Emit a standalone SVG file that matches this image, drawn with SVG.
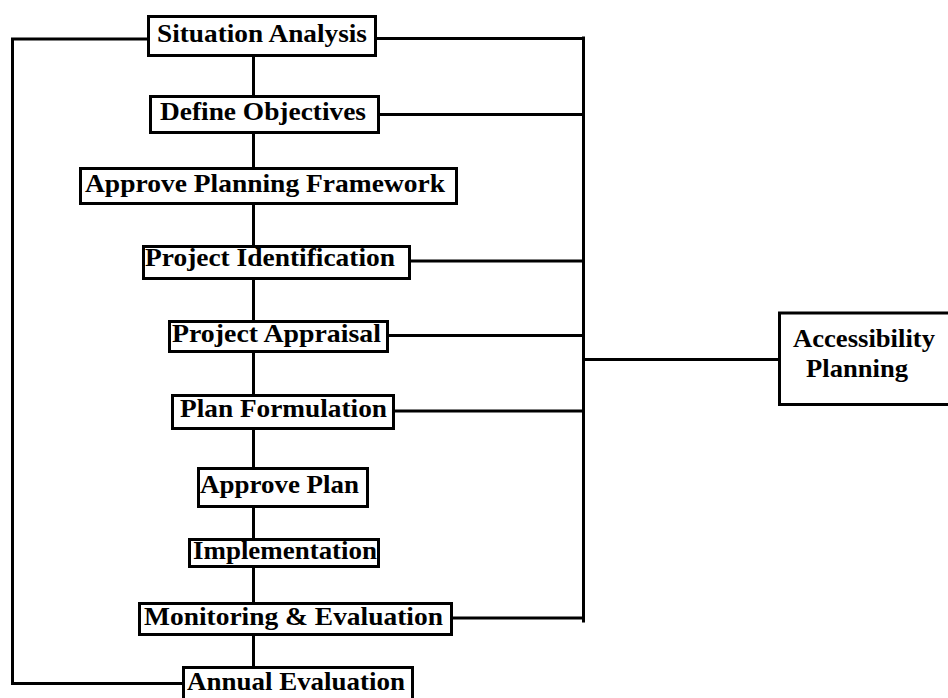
<svg xmlns="http://www.w3.org/2000/svg" width="948" height="698" viewBox="0 0 948 698">
<style>
.box{fill:#fff;stroke:#000;stroke-width:3}
.ln{fill:none;stroke:#000;stroke-width:3;stroke-linecap:square}
text{font-family:"Liberation Serif","Times New Roman",serif;font-weight:bold;font-size:26px;fill:#000}
</style>
<rect width="948" height="698" fill="#fff"/>
<g id="connectors">
<line class="ln" x1="253.5" y1="57" x2="253.5" y2="666"/>
<polyline class="ln" points="147,39 12.5,39 12.5,683.5 182,683.5"/>
<line class="ln" x1="377" y1="38.5" x2="583.5" y2="38.5"/>
<line class="ln" x1="380" y1="114.5" x2="583.5" y2="114.5"/>
<line class="ln" x1="411" y1="261" x2="583.5" y2="261"/>
<line class="ln" x1="389" y1="335.5" x2="583.5" y2="335.5"/>
<line class="ln" x1="395" y1="411" x2="583.5" y2="411"/>
<line class="ln" x1="453" y1="618" x2="583.5" y2="618"/>
<line class="ln" x1="583.5" y1="38" x2="583.5" y2="621"/>
<line class="ln" x1="583.5" y1="359.5" x2="778" y2="359.5"/>
</g>
<g id="situation-analysis"><rect class="box" x="148.5" y="16.5" width="227" height="39"/><text x="157" y="42" textLength="210" lengthAdjust="spacingAndGlyphs">Situation Analysis</text></g>
<g id="define-objectives"><rect class="box" x="150.5" y="96.5" width="228" height="36"/><text x="160" y="120" textLength="206" lengthAdjust="spacingAndGlyphs">Define Objectives</text></g>
<g id="approve-planning-framework"><rect class="box" x="80.5" y="168.5" width="376" height="35"/><text x="85" y="192" textLength="360" lengthAdjust="spacingAndGlyphs">Approve Planning Framework</text></g>
<g id="project-identification"><rect class="box" x="143.5" y="246.5" width="266" height="32"/><text x="145" y="266" textLength="250" lengthAdjust="spacingAndGlyphs">Project Identification</text></g>
<g id="project-appraisal"><rect class="box" x="169.5" y="321.5" width="218" height="30"/><text x="172" y="342" textLength="209" lengthAdjust="spacingAndGlyphs">Project Appraisal</text></g>
<g id="plan-formulation"><rect class="box" x="172.5" y="395.5" width="221" height="33"/><text x="180" y="417" textLength="207" lengthAdjust="spacingAndGlyphs">Plan Formulation</text></g>
<g id="approve-plan"><rect class="box" x="198.5" y="468.5" width="169" height="38"/><text x="200" y="493" textLength="159" lengthAdjust="spacingAndGlyphs">Approve Plan</text></g>
<g id="implementation"><rect class="box" x="189.5" y="539.5" width="189" height="27"/><text x="193" y="559" textLength="184" lengthAdjust="spacingAndGlyphs">Implementation</text></g>
<g id="monitoring-evaluation"><rect class="box" x="139.5" y="603.5" width="312" height="31"/><text x="144" y="625" textLength="299" lengthAdjust="spacingAndGlyphs">Monitoring &amp; Evaluation</text></g>
<g id="annual-evaluation"><rect class="box" x="183.5" y="667.5" width="229" height="40"/><text x="187" y="689.5" textLength="218" lengthAdjust="spacingAndGlyphs">Annual Evaluation</text></g>
<g id="accessibility-planning"><rect class="box" x="779.5" y="313" width="175" height="91.5"/><text x="793" y="347" textLength="142" lengthAdjust="spacingAndGlyphs">Accessibility</text><text x="806" y="377" textLength="102" lengthAdjust="spacingAndGlyphs">Planning</text></g>
</svg>
